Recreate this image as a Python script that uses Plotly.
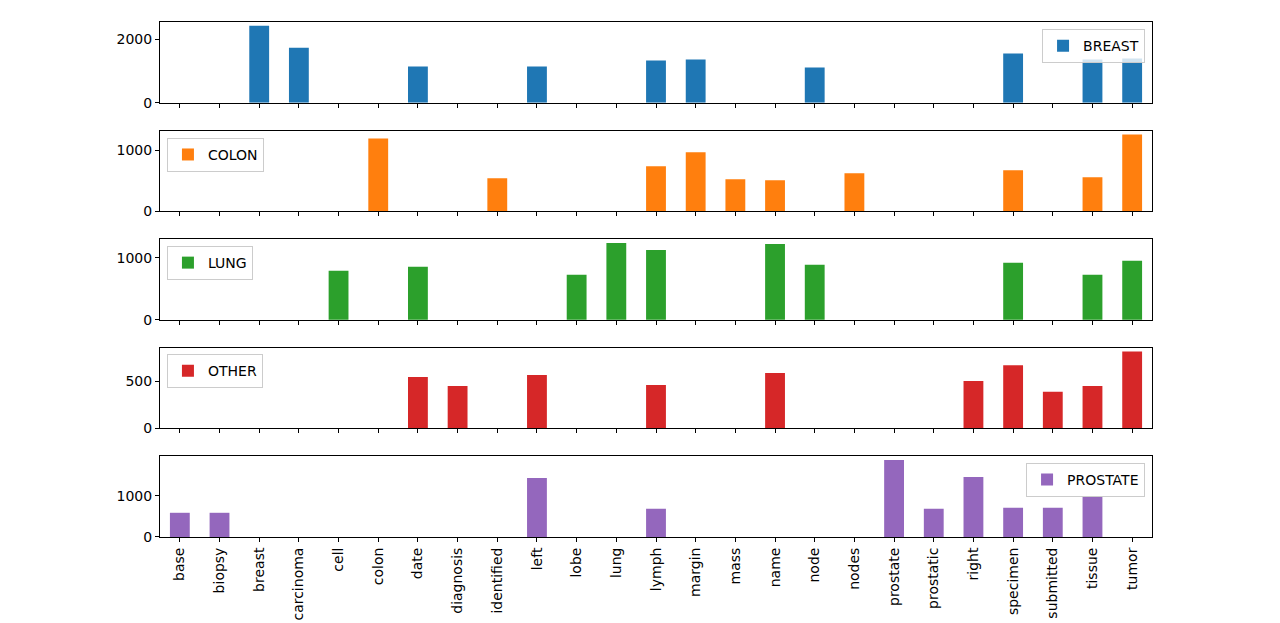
import plotly.graph_objects as go
from plotly.subplots import make_subplots

categories = ["base", "biopsy", "breast", "carcinoma", "cell", "colon", "date", "diagnosis",
              "identified", "left", "lobe", "lung", "lymph", "margin", "mass", "name", "node",
              "nodes", "prostate", "prostatic", "right", "specimen", "submitted", "tissue", "tumor"]

breast = [0, 0, 2415, 1730, 0, 0, 1136, 0, 0, 1136, 0, 0, 1323, 1355, 0, 0, 1105, 0, 0, 0, 0, 1543, 0, 1355, 1386]
colon = [0, 0, 0, 0, 0, 1190, 0, 0, 541, 0, 0, 0, 736, 963, 525, 508, 0, 622, 0, 0, 0, 671, 0, 557, 1255]
lung = [0, 0, 0, 0, 788, 0, 852, 0, 0, 0, 724, 1235, 1123, 0, 0, 1219, 884, 0, 0, 0, 0, 916, 0, 724, 948]
other = [0, 0, 0, 0, 0, 0, 545, 451, 0, 566, 0, 0, 462, 0, 0, 587, 0, 0, 0, 0, 503, 670, 389, 451, 816]
prostate = [585, 585, 0, 0, 0, 0, 0, 0, 0, 1426, 0, 0, 681, 0, 0, 0, 0, 0, 1858, 681, 1450, 705, 705, 993, 0]

series_names = ["BREAST", "COLON", "LUNG", "OTHER", "PROSTATE"]
series_values = [breast, colon, lung, other, prostate]
colors = ["#1f77b4", "#ff7f0e", "#2ca02c", "#d62728", "#9467bd"]
y_ticks = [[0, 2000], [0, 1000], [0, 1000], [0, 500], [0, 1000]]

# legend placement: (x, y, xanchor)
legend_pos = [(0.993, 0.986, "right"), (0.007, 0.775, "left"), (0.007, 0.565, "left"),
              (0.007, 0.355, "left"), (0.993, 0.144, "right")]

FONT = "DejaVu Sans"

fig = make_subplots(rows=5, cols=1, shared_xaxes=True, vertical_spacing=0.054)

for i, (name, vals, col) in enumerate(zip(series_names, series_values, colors)):
    leg = "legend" if i == 0 else f"legend{i+1}"
    fig.add_trace(go.Bar(x=categories, y=vals, name=name, marker_color=col,
                         marker_line_width=0, width=0.5, legend=leg),
                  row=i + 1, col=1)
    ymax = max(vals) * 1.05
    fig.update_yaxes(range=[0, ymax], tickvals=y_ticks[i], row=i + 1, col=1)
    lx, ly, xa = legend_pos[i]
    fig.update_layout({leg: dict(x=lx, y=ly, xanchor=xa, yanchor="top",
                                 bgcolor="rgba(255,255,255,0.8)", bordercolor="#cccccc",
                                 borderwidth=1, itemwidth=30,
                                 font=dict(family=FONT, size=14, color="black"))})

fig.update_xaxes(range=[-0.5, 24.5], showline=True, mirror=True, linecolor="black", linewidth=1,
                 ticks="outside", ticklen=4, tickwidth=1, tickcolor="black", showgrid=False,
                 tickangle=-90, tickfont=dict(family=FONT, size=14, color="black"), zeroline=False,
                 automargin=False)
fig.update_yaxes(showline=True, mirror=True, linecolor="black", linewidth=1,
                 ticks="outside", ticklen=4, tickwidth=1, tickcolor="black", showgrid=False,
                 tickfont=dict(family=FONT, size=14, color="black"), zeroline=False,
                 automargin=False)

# page body adds an 8px offset; compensate so the plot area lands at x 160-1152, y 22-537
fig.update_layout(width=1272, height=615, margin=dict(l=152, r=128, t=14, b=86),
                  plot_bgcolor="white", paper_bgcolor="white", bargap=0.5,
                  font=dict(family=FONT, size=14, color="black"), showlegend=True)

fig.write_html("out.html")
